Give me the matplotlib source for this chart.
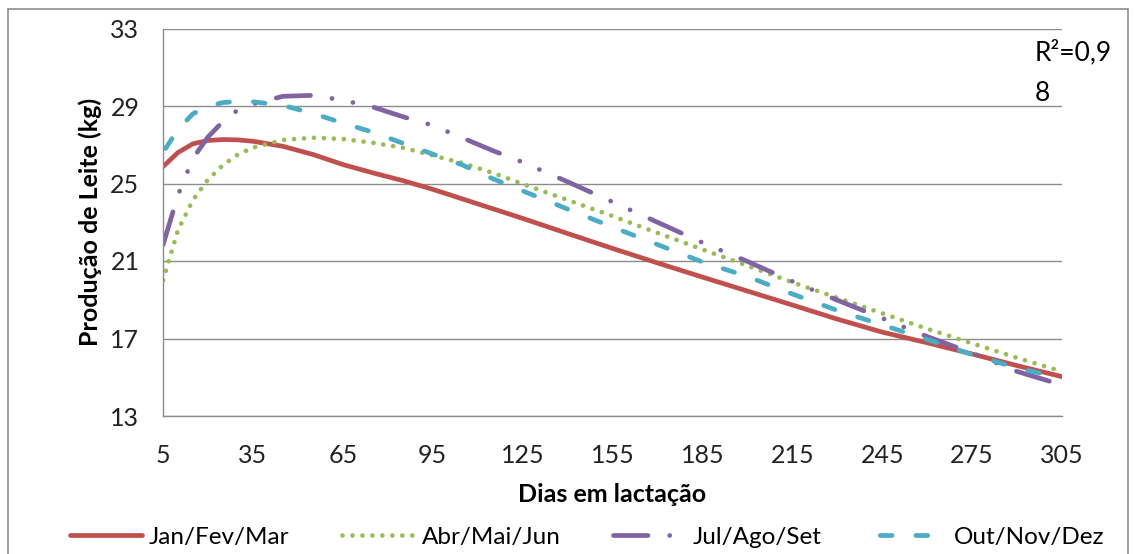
import matplotlib
matplotlib.use("Agg")
import matplotlib.pyplot as plt
from matplotlib.patches import Rectangle

plt.rcParams['font.family'] = ['Lato', 'DejaVu Sans']

# dias em lactação
dias = [5, 10, 15, 20, 25, 30, 35, 45, 55, 65, 75, 85, 95, 105, 115, 125,
        140, 155, 170, 185, 200, 215, 230, 245, 260, 275, 290, 305]

jan_fev_mar = [25.87, 26.6, 27.05, 27.22, 27.27, 27.25, 27.18, 26.92, 26.5, 25.98,
               25.55, 25.15, 24.7, 24.2, 23.7, 23.2, 22.42, 21.65, 20.9, 20.17,
               19.45, 18.73, 18.0, 17.33, 16.78, 16.2, 15.6, 15.03]
abr_mai_jun = [20.0, 22.6, 24.15, 25.2, 25.95, 26.5, 26.85, 27.25, 27.36, 27.3,
               27.1, 26.85, 26.45, 26.05, 25.55, 24.98, 24.15, 23.32, 22.45, 21.6,
               20.76, 19.9, 19.1, 18.3, 17.5, 16.75, 16.0, 15.3]
jul_ago_set = [21.83, 24.4, 26.3, 27.4, 28.2, 28.8, 29.1, 29.5, 29.55, 29.3,
               28.95, 28.45, 28.0, 27.35, 26.7, 26.1, 25.09, 24.05, 23.0, 21.95,
               20.98, 19.95, 18.98, 18.05, 17.1, 16.25, 15.3, 14.6]
out_nov_dez = [26.6, 27.8, 28.6, 28.98, 29.18, 29.23, 29.22, 29.03, 28.62, 28.12,
               27.65, 27.08, 26.52, 25.95, 25.25, 24.62, 23.68, 22.75, 21.85, 20.95,
               20.2, 19.3, 18.45, 17.7, 16.95, 16.17, 15.48, 14.95]

rotulos = ['Jan/Fev/Mar', 'Abr/Mai/Jun', 'Jul/Ago/Set', 'Out/Nov/Dez']
xticks = [5, 35, 65, 95, 125, 155, 185, 215, 245, 275, 305]
yticks = [13, 17, 21, 25, 29, 33]

W, H = 1134, 554
fig = plt.figure(figsize=(W / 100, H / 100), dpi=100)
ax = fig.add_axes([163 / W, 1 - 416 / H, (1062 - 163) / W, (416 - 28.5) / H])

lw = 3.4
ax.plot(dias, jan_fev_mar, color='#C0504D', lw=lw, solid_capstyle='round',
        label=rotulos[0])
ax.plot(dias, abr_mai_jun, color='#9BBB59', lw=lw, dash_capstyle='round',
        linestyle=(0, (0.01, 2.1)), label=rotulos[1])
ax.plot(dias, jul_ago_set, color='#8064A2', lw=lw, dash_capstyle='round',
        linestyle=(0, (7.3, 4.6, 0.01, 4.5, 0.01, 4.6)), label=rotulos[2])
ax.plot(dias, out_nov_dez, color='#4BACC6', lw=lw, dash_capstyle='round',
        linestyle=(6.56, (2.5, 5.06)), label=rotulos[3])

ax.set_xlim(5, 305)
ax.set_ylim(13, 33)
ax.set_xticks(xticks)
ax.set_yticks(yticks)
ax.tick_params(length=0, labelsize=18, colors='#222222')
ax.tick_params(axis='x', pad=20)
ax.tick_params(axis='y', pad=17)
ax.grid(axis='y', color='#8c8c8c', lw=1.0)
ax.set_axisbelow(True)
for s in ['top', 'right']:
    ax.spines[s].set_visible(False)
for s in ['left', 'bottom']:
    ax.spines[s].set_color('#8c8c8c')
    ax.spines[s].set_linewidth(1.0)

fig.text(90 / W, 1 - 222 / H, 'Produção de Leite (kg)', rotation=90,
         ha='center', va='center', fontsize=18, fontweight='bold')
fig.text(612 / W, 1 - 495 / H, 'Dias em lactação', ha='center', va='center',
         fontsize=18, fontweight='bold')
fig.text(1035 / W, 1 - 40 / H, 'R²=0,9\n8', ha='left', va='top', fontsize=19,
         linespacing=1.75)

fig.legend(loc='center', bbox_to_anchor=(587 / W, 1 - 537 / H), ncol=4,
           frameon=False, fontsize=17.5, handlelength=2.96, columnspacing=2.18,
           handletextpad=0.3)

fig.patches.append(Rectangle((8 / W, -0.1), 1120 / W, 0.1 + 1 - 9 / H,
                             transform=fig.transFigure, fill=False,
                             edgecolor='#8c8c8c', lw=1.2))

fig.savefig('out.png', dpi=100)
